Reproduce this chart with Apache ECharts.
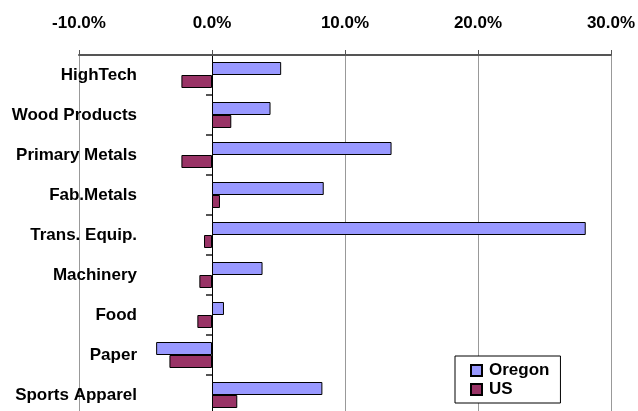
<!DOCTYPE html>
<html>
<head>
<meta charset="utf-8">
<script src="https://cdn.jsdelivr.net/npm/echarts@6/dist/echarts.min.js"></script>
<style>
  html, body { margin: 0; padding: 0; background: #fff; }
  #chart { width: 638px; height: 411px; }
</style>
</head>
<body>
<div id="chart"></div>
<script>
  var categories = ['HighTech', 'Wood Products', 'Primary Metals', 'Fab.Metals', 'Trans. Equip.',
    'Machinery', 'Food', 'Paper', 'Sports Apparel'];
  var oregon = [5.2, 4.4, 13.5, 8.4, 28.1, 3.8, 0.9, -4.2, 8.3];
  var us = [-2.3, 1.45, -2.3, 0.6, -0.6, -0.95, -1.1, -3.2, 1.9];
  var xTicks = [-10, 30, 10];  // min, max, step

  var font = "'Liberation Sans', Arial, sans-serif";
  var chart = echarts.init(document.getElementById('chart'));

  chart.setOption({
    animation: false,
    grid: {
      left: 79,
      right: 27,
      top: 55,
      bottom: -4,
      containLabel: false,
      outerBoundsMode: 'none'
    },
    legend: {
      orient: 'vertical',
      left: 455,
      top: 356,
      padding: [6, 11, 5, 15],
      itemGap: 2,
      itemWidth: 11,
      itemHeight: 11,
      icon: 'rect',
      backgroundColor: '#fff',
      borderColor: '#000',
      borderWidth: 1,
      textStyle: {fontFamily: font, fontSize: 17, fontWeight: 'bold', color: '#000', padding: [0, 0, 0, 2]},
      data: ['Oregon', 'US']
    },
    xAxis: {
      type: 'value',
      position: 'top',
      min: xTicks[0],
      max: xTicks[1],
      interval: xTicks[2],
      axisLine: {show: true, lineStyle: {color: '#555', width: 2}},
      axisTick: {show: true, length: 5, lineStyle: {color: '#555'}},
      axisLabel: {
        margin: 23,
        fontFamily: font,
        fontSize: 17,
        fontWeight: 'bold',
        color: '#000',
        formatter: function (v) {
          return v.toFixed(1) + '%';
        }
      },
      splitLine: {show: true, lineStyle: {color: '#999', width: 1}}
    },
    yAxis: {
      type: 'category',
      inverse: true,
      data: categories,
      axisLine: {show: true, onZero: true, lineStyle: {color: '#000', width: 1}},
      axisTick: {show: true, length: 6, lineStyle: {color: '#555', width: 2}},
      axisLabel: {
        margin: -58,
        fontFamily: font,
        fontSize: 17,
        fontWeight: 'bold',
        color: '#000'
      }
    },
    series: [
      {
        name: 'Oregon',
        type: 'bar',
        data: oregon,
        barWidth: 13,
        barGap: '0%',
        itemStyle: {color: '#9999FF', borderColor: '#000', borderWidth: 1}
      },
      {
        name: 'US',
        type: 'bar',
        data: us,
        barWidth: 13,
        barGap: '0%',
        itemStyle: {color: '#993366', borderColor: '#000', borderWidth: 1}
      }
    ]
  });
</script>
</body>
</html>
